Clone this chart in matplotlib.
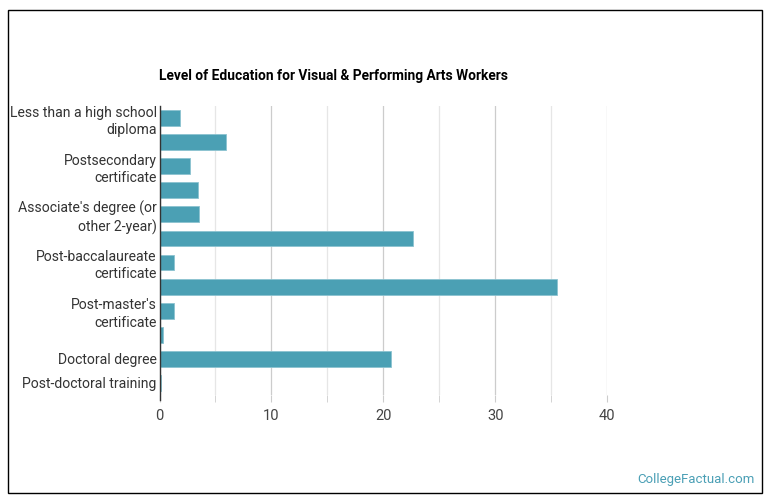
import matplotlib.pyplot as plt
import numpy as np
from matplotlib.patches import Rectangle

plt.rcParams['font.family'] = ['Roboto', 'DejaVu Sans']

categories = ['Less than a high school\ndiploma', 'High school diploma',
              'Postsecondary\ncertificate', 'Some college',
              'Associate\'s degree (or\nother 2-year)', 'Bachelor\'s degree',
              'Post-baccalaureate\ncertificate', 'Master\'s degree',
              'Post-master\'s\ncertificate', 'First professional degree',
              'Doctoral degree', 'Post-doctoral training']
values = [1.8, 5.9, 2.7, 3.4, 3.5, 22.7, 1.3, 35.5, 1.3, 0.3, 20.7, 0.1]
# labels that the chart actually shows (others are skipped)
shown = [0, 2, 4, 6, 8, 10, 11]

bar_color = '#4ba0b4'

fig = plt.figure(figsize=(7.7, 5.03), dpi=100)
fig.patches.append(Rectangle((8 / 770, 10 / 503), 754 / 770, 483 / 503,
                             transform=fig.transFigure, fill=False,
                             edgecolor='black', linewidth=1.0))

ax = fig.add_axes([159.5 / 770, 1 - 395 / 503, (607 - 159.5) / 770, (395 - 106) / 503])
y = np.arange(len(categories))
ax.barh(y, values, height=0.66, color=bar_color, edgecolor='#8cc3d0', linewidth=0.6, zorder=3)
ax.set_ylim(len(categories) - 0.5, -0.5)
ax.set_xlim(0, 40)

ax.set_yticks([i for i in shown])
ax.set_yticklabels([categories[i] for i in shown], fontsize=10.1, color='#333333',
                   linespacing=1.3)
ax.tick_params(axis='y', which='major', length=0, pad=2)

ax.set_xticks([0, 10, 20, 30, 40])
ax.set_xticks([5, 15, 25, 35], minor=True)
ax.tick_params(axis='x', which='both', length=5, color='#cccccc', labelsize=10.5,
               labelcolor='#444444', pad=5)
ax.grid(axis='x', which='major', color='#cccccc', linewidth=0.9, zorder=0)
ax.grid(axis='x', which='minor', color='#e6e6e6', linewidth=0.9, zorder=0)

for s in ['top', 'right', 'bottom']:
    ax.spines[s].set_visible(False)
ax.spines['left'].set_color('#333333')
ax.spines['left'].set_linewidth(1.0)
ax.spines['left'].set_zorder(4)
ax.spines['left'].set_bounds(len(categories) - 0.3, -0.5)

fig.text(159 / 770, 1 - 76 / 503, 'Level of Education for Visual & Performing Arts Workers',
         fontsize=9.9, fontweight='bold', color='black', va='center', ha='left')
fig.text(755 / 770, 1 - 480 / 503, 'CollegeFactual.com', fontsize=9.5,
         color='#4a9fb5', ha='right', va='center')

fig.savefig('out.png', dpi=100)
